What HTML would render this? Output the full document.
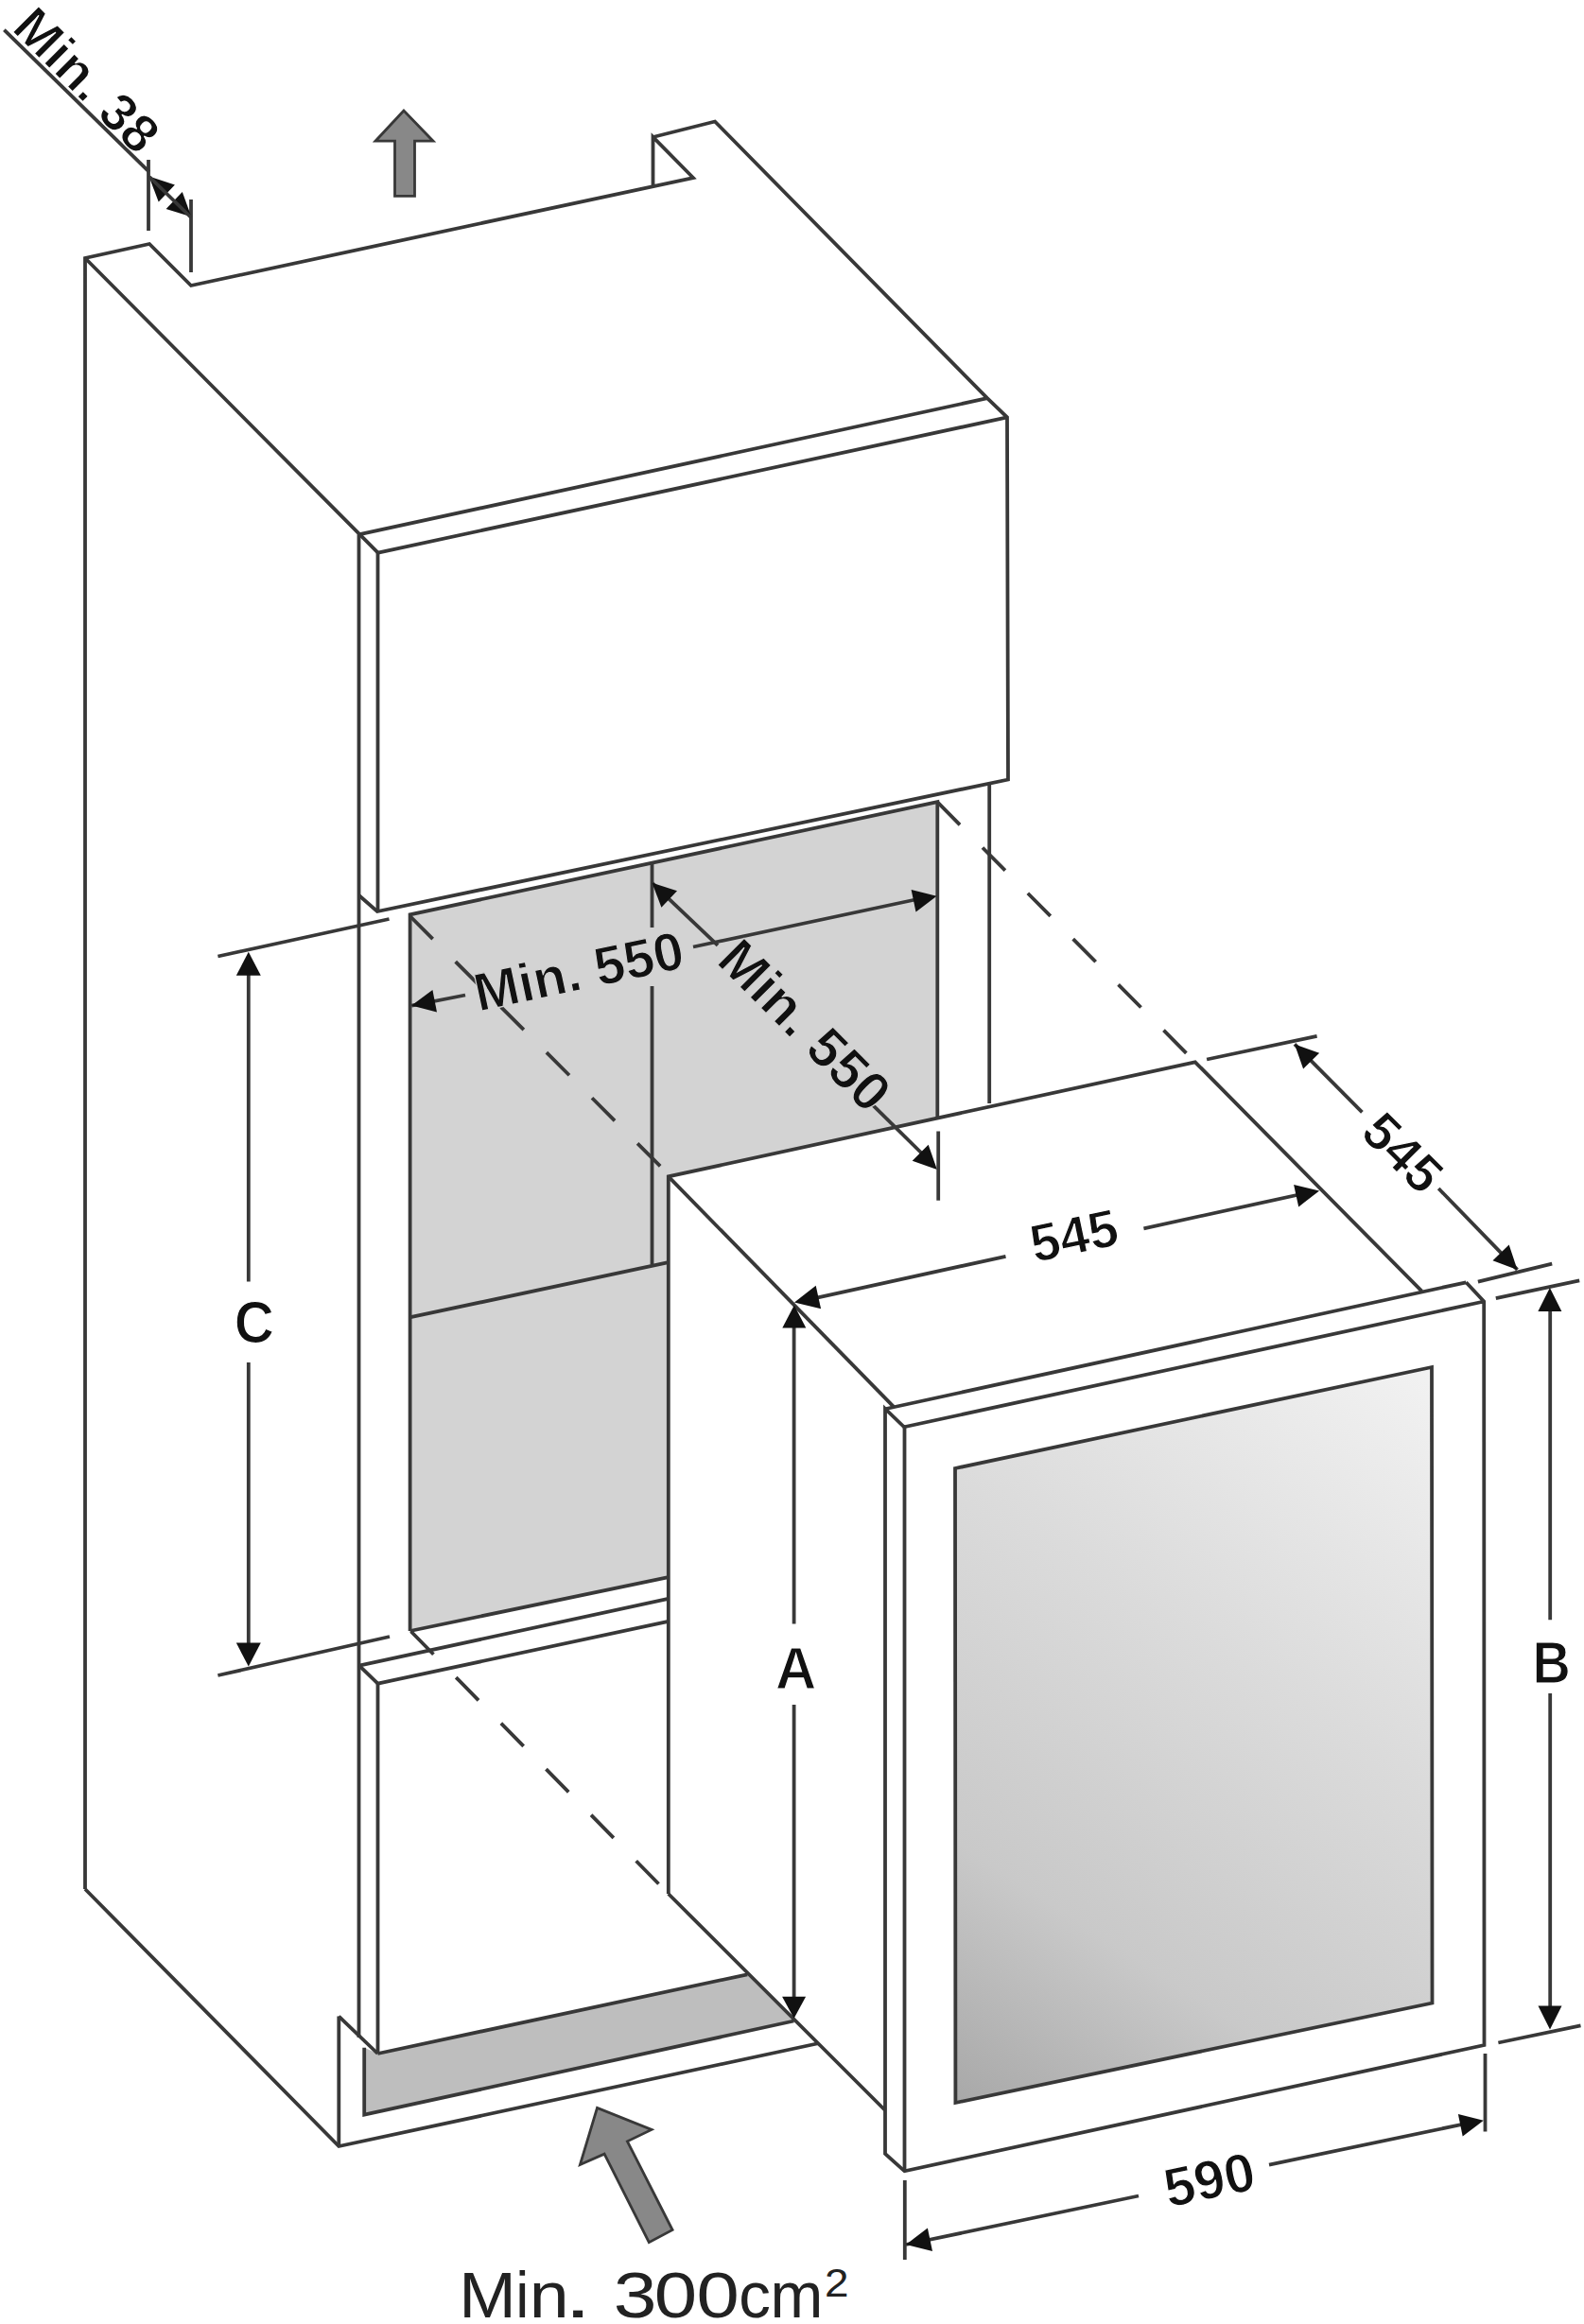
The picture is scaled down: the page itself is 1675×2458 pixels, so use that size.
<!DOCTYPE html>
<html><head><meta charset="utf-8"><style>
html,body{margin:0;padding:0;background:#fff;}
svg{display:block;}
</style></head><body>
<svg width="1675" height="2458" viewBox="0 0 1675 2458">
<rect width="1675" height="2458" fill="#fff"/>
<polygon points="433.6,967.3 991.3,848.2 991.3,1250.0 706.8,1250.0 706.8,1668.2 433.6,1725.0" fill="#d3d3d3" stroke="none" stroke-width="0" stroke-linejoin="miter"/>
<polygon points="385.2,2165.7 399.4,2172.0 790.2,2088.3 839.4,2137.5 385.2,2236.7" fill="#bebebe" stroke="none" stroke-width="0" stroke-linejoin="miter"/>
<path d="M90.0,1998.0 L90.0,273.0 L158.0,258.0 L202.0,302.0 L733.0,188.0 L690.5,145.0 L690.5,198.2" fill="none" stroke="#383838" stroke-width="3.8" stroke-linejoin="miter" />
<path d="M690.5,145.0 L756.0,128.5 L1044.0,421.2 L1065.0,441.4 L1066.0,824.5 L398.9,964.0 L379.3,946.8" fill="none" stroke="#383838" stroke-width="3.8" stroke-linejoin="miter" />
<path d="M90.0,273.0 L380.3,565.2 L1044.0,421.2" fill="none" stroke="#383838" stroke-width="3.8" stroke-linejoin="miter" />
<path d="M380.3,565.2 L399.7,584.6 L1065.0,441.4" fill="none" stroke="#383838" stroke-width="3.8" stroke-linejoin="miter" />
<path d="M379.5,565.2 L379.5,2155.0" fill="none" stroke="#383838" stroke-width="3.8" stroke-linejoin="miter" />
<path d="M399.5,584.6 L399.5,964.0" fill="none" stroke="#383838" stroke-width="3.8" stroke-linejoin="miter" />
<path d="M90.0,1998.0 L358.3,2270.0 L936.0,2146.0" fill="none" stroke="#383838" stroke-width="3.8" stroke-linejoin="miter" />
<path d="M358.3,2132.6 L358.3,2270.0" fill="none" stroke="#383838" stroke-width="3.8" stroke-linejoin="miter" />
<path d="M358.3,2132.6 L399.4,2172.0" fill="none" stroke="#383838" stroke-width="3.8" stroke-linejoin="miter" />
<path d="M399.4,2172.0 L790.2,2088.3" fill="none" stroke="#383838" stroke-width="3.8" stroke-linejoin="miter" />
<path d="M385.2,2165.7 L385.2,2236.7 L839.4,2137.5" fill="none" stroke="#383838" stroke-width="3.8" stroke-linejoin="miter" />
<path d="M433.6,1725.0 L433.6,967.3 L991.3,848.2 L991.3,1185.0" fill="none" stroke="#383838" stroke-width="3.8" stroke-linejoin="miter" />
<path d="M1046.2,828.3 L1046.2,1167.0" fill="none" stroke="#383838" stroke-width="3.8" stroke-linejoin="miter" />
<path d="M689.5,912.7 L689.5,981.0" fill="none" stroke="#383838" stroke-width="3.8" stroke-linejoin="miter" />
<path d="M689.5,1043.0 L689.5,1337.6" fill="none" stroke="#383838" stroke-width="3.8" stroke-linejoin="miter" />
<path d="M434.1,1393.2 L706.8,1335.1" fill="none" stroke="#383838" stroke-width="3.8" stroke-linejoin="miter" />
<path d="M433.6,1725.0 L706.8,1668.2" fill="none" stroke="#383838" stroke-width="3.8" stroke-linejoin="miter" />
<path d="M379.8,1761.6 L706.8,1690.9" fill="none" stroke="#383838" stroke-width="3.8" stroke-linejoin="miter" />
<path d="M379.8,1761.6 L399.5,1780.6 L706.8,1714.9" fill="none" stroke="#383838" stroke-width="3.8" stroke-linejoin="miter" />
<path d="M399.5,1780.6 L399.5,2172.0" fill="none" stroke="#383838" stroke-width="3.8" stroke-linejoin="miter" />
<path d="M433.6,969.0 L706.8,1242.0" fill="none" stroke="#383838" stroke-width="3.8" stroke-linejoin="miter" stroke-dasharray="34 34"/>
<path d="M434.6,1725.5 L706.8,2003.0" fill="none" stroke="#383838" stroke-width="3.8" stroke-linejoin="miter" stroke-dasharray="34 34"/>
<path d="M991.1,848.2 L1263.8,1123.3" fill="none" stroke="#383838" stroke-width="3.8" stroke-linejoin="miter" stroke-dasharray="34 34"/>
<polygon points="706.8,1244.4 1263.8,1123.3 1569.2,1376.5 1569.5,2163.0 956.5,2296.3 936.0,2278.0 936.0,2232.0 706.8,2003.0" fill="#ffffff" stroke="none" stroke-width="0" stroke-linejoin="miter"/>
<path d="M706.8,2003.0 L706.8,1244.4 L1263.8,1123.3 L1503.5,1365.7" fill="none" stroke="#383838" stroke-width="3.8" stroke-linejoin="miter" />
<path d="M1550.3,1356.3 L1569.2,1376.5 L1569.5,2163.0 L956.5,2296.3 L936.0,2278.0 L936.0,1490.0 L956.0,1509.3 L1569.2,1376.5" fill="none" stroke="#383838" stroke-width="3.8" stroke-linejoin="miter" />
<path d="M937.0,1490.0 L1550.3,1356.3" fill="none" stroke="#383838" stroke-width="3.8" stroke-linejoin="miter" />
<path d="M956.5,1509.3 L956.5,2296.3" fill="none" stroke="#383838" stroke-width="3.8" stroke-linejoin="miter" />
<path d="M706.8,1244.4 L945.0,1487.8" fill="none" stroke="#383838" stroke-width="3.8" stroke-linejoin="miter" />
<path d="M706.8,2003.0 L936.0,2232.0" fill="none" stroke="#383838" stroke-width="3.8" stroke-linejoin="miter" />
<defs><linearGradient id="g" gradientUnits="userSpaceOnUse" x1="1514" y1="1446" x2="1010" y2="2224"><stop offset="0" stop-color="#f2f2f2"/><stop offset="0.4" stop-color="#dbdbdb"/><stop offset="0.75" stop-color="#c9c9c9"/><stop offset="1" stop-color="#a8a8a8"/></linearGradient></defs>
<polygon points="1010.0,1553.0 1514.0,1446.0 1514.5,2118.5 1010.4,2224.0" fill="url(#g)" stroke="#383838" stroke-width="3.8" stroke-linejoin="miter"/>
<path d="M4.4,31.6 L157.8,181.8" fill="none" stroke="#383838" stroke-width="3.8" stroke-linejoin="miter" />
<path d="M157.0,169.0 L157.0,244.0" fill="none" stroke="#383838" stroke-width="3.8" stroke-linejoin="miter" />
<path d="M202.0,211.0 L202.0,288.0" fill="none" stroke="#383838" stroke-width="3.8" stroke-linejoin="miter" />
<polygon points="157.5,186.5 184.9,195.4 167.7,213.5" fill="#111" stroke="none" stroke-width="0" stroke-linejoin="miter"/>
<polygon points="202.3,229.2 175.6,221.0 192.8,202.9" fill="#111" stroke="none" stroke-width="0" stroke-linejoin="miter"/>
<path d="M158.0,187.0 L202.0,230.0" fill="none" stroke="#383838" stroke-width="3.8" stroke-linejoin="miter" />
<text transform="translate(11.1,31.3) rotate(45.00)" font-family="Liberation Sans, sans-serif" font-size="56" font-weight="bold" fill="#111" text-anchor="start" stroke="#fff" stroke-width="1.2">Min. 38</text>
<polygon points="427.0,117.0 397.0,149.2 417.5,149.2 417.5,207.3 438.5,207.3 438.5,149.2 458.0,149.2" fill="#888" stroke="#383838" stroke-width="2.8" stroke-linejoin="miter"/>
<path d="M230.4,1011.5 L411.5,972.0" fill="none" stroke="#383838" stroke-width="3.8" stroke-linejoin="miter" />
<path d="M230.4,1772.0 L412.0,1731.0" fill="none" stroke="#383838" stroke-width="3.8" stroke-linejoin="miter" />
<path d="M262.8,1030.0 L262.8,1355.6" fill="none" stroke="#383838" stroke-width="3.8" stroke-linejoin="miter" />
<path d="M262.8,1441.0 L262.8,1740.0" fill="none" stroke="#383838" stroke-width="3.8" stroke-linejoin="miter" />
<polygon points="262.8,1006.8 275.8,1031.8 249.8,1031.8" fill="#111" stroke="none" stroke-width="0" stroke-linejoin="miter"/>
<polygon points="262.8,1762.6 249.8,1737.6 275.8,1737.6" fill="#111" stroke="none" stroke-width="0" stroke-linejoin="miter"/>
<text transform="translate(247.71,1419.79) scale(0.9313,1)" font-family="Liberation Sans, sans-serif" font-size="62.57" font-weight="bold" fill="#111" stroke="#fff" stroke-width="1.2">C</text>
<path d="M435.2,1063.6 L492.0,1052.5" fill="none" stroke="#383838" stroke-width="3.8" stroke-linejoin="miter" />
<polygon points="435.2,1063.6 457.4,1047.0 462.0,1070.6" fill="#111" stroke="none" stroke-width="0" stroke-linejoin="miter"/>
<path d="M733.0,1001.5 L975.0,950.0" fill="none" stroke="#383838" stroke-width="3.8" stroke-linejoin="miter" />
<polygon points="990.5,947.7 968.5,964.6 963.6,941.1" fill="#111" stroke="none" stroke-width="0" stroke-linejoin="miter"/>
<text transform="translate(506.0,1070.0) rotate(-12.00)" font-family="Liberation Sans, sans-serif" font-size="57" font-weight="bold" fill="#111" text-anchor="start" stroke="#d3d3d3" stroke-width="1.2">Min. 550</text>
<path d="M689.6,933.8 L759.0,999.8" fill="none" stroke="#383838" stroke-width="3.8" stroke-linejoin="miter" />
<polygon points="689.6,933.8 716.0,942.3 699.4,959.7" fill="#111" stroke="none" stroke-width="0" stroke-linejoin="miter"/>
<path d="M921.5,1167.4 L980.0,1225.0" fill="none" stroke="#383838" stroke-width="3.8" stroke-linejoin="miter" />
<polygon points="990.9,1236.9 964.7,1227.7 981.7,1210.7" fill="#111" stroke="none" stroke-width="0" stroke-linejoin="miter"/>
<path d="M992.2,1196.5 L992.2,1269.7" fill="none" stroke="#383838" stroke-width="3.8" stroke-linejoin="miter" />
<text transform="translate(756.0,1017.8) rotate(45.00)" font-family="Liberation Sans, sans-serif" font-size="58" font-weight="bold" fill="#111" text-anchor="start" stroke="#d3d3d3" stroke-width="1.2">Min. 550</text>
<path d="M850.0,1375.7 L1063.5,1328.8" fill="none" stroke="#383838" stroke-width="3.8" stroke-linejoin="miter" />
<polygon points="840.0,1377.5 862.7,1359.8 868.1,1384.2" fill="#111" stroke="none" stroke-width="0" stroke-linejoin="miter"/>
<path d="M1209.4,1299.3 L1385.0,1261.0" fill="none" stroke="#383838" stroke-width="3.8" stroke-linejoin="miter" />
<polygon points="1395.1,1259.4 1373.2,1276.4 1368.1,1252.9" fill="#111" stroke="none" stroke-width="0" stroke-linejoin="miter"/>
<text transform="translate(1094.0,1335.5) rotate(-12.00)" font-family="Liberation Sans, sans-serif" font-size="56" font-weight="bold" fill="#111" text-anchor="start" stroke="#fff" stroke-width="1.2">545</text>
<path d="M1276.1,1120.5 L1392.6,1095.8" fill="none" stroke="#383838" stroke-width="3.8" stroke-linejoin="miter" />
<path d="M1562.9,1355.6 L1641.2,1336.6" fill="none" stroke="#383838" stroke-width="3.8" stroke-linejoin="miter" />
<path d="M1369.0,1104.4 L1440.4,1176.3" fill="none" stroke="#383838" stroke-width="3.8" stroke-linejoin="miter" />
<polygon points="1369.0,1104.4 1395.1,1113.7 1378.1,1130.6" fill="#111" stroke="none" stroke-width="0" stroke-linejoin="miter"/>
<path d="M1521.2,1257.0 L1604.5,1342.9" fill="none" stroke="#383838" stroke-width="3.8" stroke-linejoin="miter" />
<polygon points="1604.5,1342.9 1578.5,1333.3 1595.7,1316.6" fill="#111" stroke="none" stroke-width="0" stroke-linejoin="miter"/>
<text transform="translate(1436.7,1199.7) rotate(45.00)" font-family="Liberation Sans, sans-serif" font-size="56" font-weight="bold" fill="#111" text-anchor="start" stroke="#fff" stroke-width="1.2">545</text>
<path d="M839.6,1390.0 L839.6,1717.4" fill="none" stroke="#383838" stroke-width="3.8" stroke-linejoin="miter" />
<path d="M839.6,1803.0 L839.6,2120.0" fill="none" stroke="#383838" stroke-width="3.8" stroke-linejoin="miter" />
<polygon points="839.8,1380.5 852.3,1404.5 827.3,1404.5" fill="#111" stroke="none" stroke-width="0" stroke-linejoin="miter"/>
<polygon points="839.6,2134.7 827.1,2111.7 852.1,2111.7" fill="#111" stroke="none" stroke-width="0" stroke-linejoin="miter"/>
<text transform="translate(819.91,1786.20) scale(0.9632,1)" font-family="Liberation Sans, sans-serif" font-size="62.21" font-weight="bold" fill="#111" stroke="#fff" stroke-width="1.2">A</text>
<path d="M1581.8,1373.2 L1670.2,1354.3" fill="none" stroke="#383838" stroke-width="3.8" stroke-linejoin="miter" />
<path d="M1584.4,2160.5 L1671.5,2142.3" fill="none" stroke="#383838" stroke-width="3.8" stroke-linejoin="miter" />
<path d="M1639.2,1370.0 L1639.2,1713.3" fill="none" stroke="#383838" stroke-width="3.8" stroke-linejoin="miter" />
<path d="M1639.2,1790.9 L1639.2,2140.0" fill="none" stroke="#383838" stroke-width="3.8" stroke-linejoin="miter" />
<polygon points="1638.9,1362.0 1651.4,1387.0 1626.4,1387.0" fill="#111" stroke="none" stroke-width="0" stroke-linejoin="miter"/>
<polygon points="1639.0,2146.4 1626.5,2121.4 1651.5,2121.4" fill="#111" stroke="none" stroke-width="0" stroke-linejoin="miter"/>
<text transform="translate(1620.57,1780.10) scale(0.8817,1)" font-family="Liberation Sans, sans-serif" font-size="63.23" font-weight="bold" fill="#111" stroke="#fff" stroke-width="1.2">B</text>
<path d="M956.8,2306.0 L956.8,2390.0" fill="none" stroke="#383838" stroke-width="3.8" stroke-linejoin="miter" />
<path d="M1570.5,2172.0 L1570.5,2254.5" fill="none" stroke="#383838" stroke-width="3.8" stroke-linejoin="miter" />
<path d="M958.0,2374.0 L1204.0,2322.5" fill="none" stroke="#383838" stroke-width="3.8" stroke-linejoin="miter" />
<polygon points="958.0,2374.0 980.9,2356.4 986.0,2380.9" fill="#111" stroke="none" stroke-width="0" stroke-linejoin="miter"/>
<path d="M1342.0,2289.6 L1560.0,2244.0" fill="none" stroke="#383838" stroke-width="3.8" stroke-linejoin="miter" />
<polygon points="1568.8,2242.7 1546.7,2259.5 1541.9,2236.0" fill="#111" stroke="none" stroke-width="0" stroke-linejoin="miter"/>
<text transform="translate(1283.0,2325.0) rotate(-12.00)" font-family="Liberation Sans, sans-serif" font-size="58" font-weight="bold" fill="#111" text-anchor="middle" stroke="#fff" stroke-width="1.2">590</text>
<polygon points="631.5,2229.4 613.4,2289.5 639.1,2278.1 686.3,2371.7 711.1,2358.5 663.4,2264.8 689.0,2252.4" fill="#888" stroke="#383838" stroke-width="2.8" stroke-linejoin="miter"/>
<text transform="translate(485.14,2450.8) scale(1.0590,1)" font-family="Liberation Sans, sans-serif" font-size="68.61" fill="#222">M</text>
<text transform="translate(545.14,2450.8) scale(0.9287,1)" font-family="Liberation Sans, sans-serif" font-size="68.61" fill="#222">i</text>
<text transform="translate(559.70,2450.8) scale(1.0980,1)" font-family="Liberation Sans, sans-serif" font-size="68.61" fill="#222">n</text>
<text transform="translate(596.41,2450.8) scale(1.5309,1)" font-family="Liberation Sans, sans-serif" font-size="68.61" fill="#222">.</text>
<text transform="translate(648.87,2450.8) scale(1.1990,1)" font-family="Liberation Sans, sans-serif" font-size="68.61" fill="#222">3</text>
<text transform="translate(691.81,2450.8) scale(1.1892,1)" font-family="Liberation Sans, sans-serif" font-size="68.61" fill="#222">0</text>
<text transform="translate(736.52,2450.8) scale(1.1861,1)" font-family="Liberation Sans, sans-serif" font-size="68.61" fill="#222">0</text>
<text transform="translate(781.14,2450.8) scale(0.9804,1)" font-family="Liberation Sans, sans-serif" font-size="68.61" fill="#222">c</text>
<text transform="translate(814.55,2450.8) scale(0.9777,1)" font-family="Liberation Sans, sans-serif" font-size="68.61" fill="#222">m</text>
<text transform="translate(872.09,2428.60) scale(1.0970,1)" font-family="Liberation Sans, sans-serif" font-size="41.82" font-weight="normal" fill="#222" >2</text>
</svg></body></html>
